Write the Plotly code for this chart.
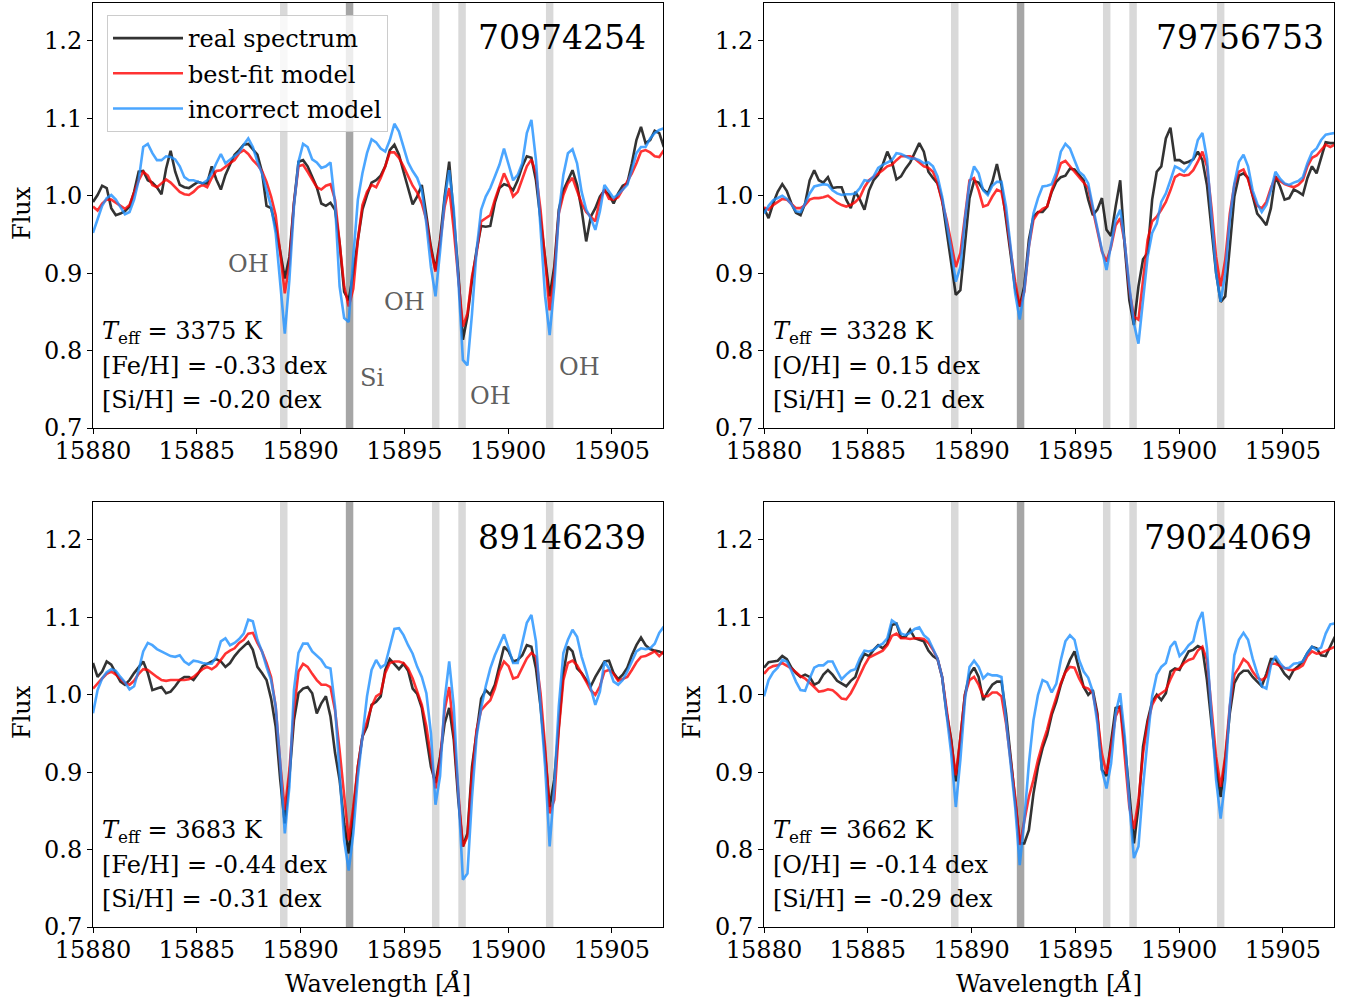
import numpy as np
import plotly.graph_objects as go

# Wavelength sampling grid (Angstrom), common to every spectrum
WAVE = np.round(15880.0 + 0.22 * np.arange(126), 2)

# ---- star 70974254 ----
TL_REAL = [0.992, 1.001, 1.013, 1.010, 0.984, 0.975, 0.977, 0.980, 0.986, 1.005,
           1.031, 1.032, 1.020, 1.017, 1.011, 1.002, 1.035, 1.058, 1.031, 1.014,
           1.011, 1.010, 1.014, 1.018, 1.016, 1.016, 1.038, 1.021, 1.008, 1.027,
           1.040, 1.053, 1.059, 1.066, 1.067, 1.060, 1.053, 1.031, 0.987, 0.984,
           0.960, 0.928, 0.893, 0.921, 0.990, 1.044, 1.046, 1.038, 1.025, 1.011,
           0.990, 0.987, 0.991, 0.982, 0.939, 0.876, 0.865, 0.900, 0.943, 0.982,
           1.001, 1.017, 1.020, 1.026, 1.038, 1.059, 1.066, 1.053, 1.031, 1.010,
           0.989, 0.999, 1.014, 0.975, 0.934, 0.904, 0.943, 0.999, 1.044, 0.973,
           0.900, 0.814, 0.844, 0.891, 0.930, 0.961, 0.960, 0.961, 0.991, 1.010,
           1.015, 1.013, 1.007, 1.020, 1.038, 1.051, 1.049, 1.020, 0.969, 0.917,
           0.870, 0.908, 0.982, 1.007, 1.020, 1.033, 1.014, 0.982, 0.941, 0.973,
           0.984, 0.999, 1.007, 1.001, 0.990, 1.003, 1.013, 1.016, 1.042, 1.072,
           1.089, 1.068, 1.072, 1.084, 1.081, 1.063]
TL_BEST = [0.986, 0.981, 0.990, 0.995, 0.995, 0.991, 0.987, 0.983, 0.988, 1.005,
           1.020, 1.031, 1.026, 1.014, 1.011, 1.016, 1.021, 1.017, 1.011, 1.005,
           1.002, 1.001, 1.005, 1.011, 1.014, 1.011, 1.023, 1.032, 1.033, 1.038,
           1.042, 1.046, 1.055, 1.059, 1.054, 1.046, 1.040, 1.032, 1.018, 0.999,
           0.975, 0.926, 0.874, 0.912, 0.990, 1.038, 1.040, 1.031, 1.020, 1.011,
           1.008, 1.013, 1.015, 0.995, 0.939, 0.883, 0.857, 0.880, 0.943, 0.988,
           1.005, 1.014, 1.011, 1.023, 1.038, 1.056, 1.056, 1.049, 1.038, 1.025,
           1.013, 1.004, 0.990, 0.969, 0.930, 0.902, 0.939, 0.986, 1.010, 0.956,
           0.896, 0.831, 0.848, 0.896, 0.926, 0.967, 0.971, 0.975, 0.995, 1.011,
           1.029, 1.016, 0.999, 1.005, 1.023, 1.038, 1.047, 1.029, 0.982, 0.921,
           0.852, 0.900, 0.977, 1.001, 1.016, 1.023, 1.007, 0.990, 0.979, 0.973,
           0.967, 0.995, 1.008, 0.996, 0.995, 0.998, 1.008, 1.018, 1.029, 1.042,
           1.057, 1.059, 1.056, 1.051, 1.050, 1.059]
TL_BAD = [0.952, 0.971, 0.987, 0.997, 1.001, 0.995, 0.985, 0.976, 0.979, 0.995,
          1.020, 1.063, 1.067, 1.055, 1.046, 1.046, 1.051, 1.050, 1.047, 1.038,
          1.024, 1.020, 1.020, 1.018, 1.016, 1.020, 1.029, 1.042, 1.054, 1.042,
          1.047, 1.051, 1.056, 1.066, 1.074, 1.063, 1.044, 1.029, 1.007, 0.986,
          0.952, 0.887, 0.822, 0.891, 0.986, 1.044, 1.067, 1.063, 1.047, 1.043,
          1.036, 1.038, 1.043, 0.990, 0.883, 0.842, 0.837, 0.921, 0.995, 1.029,
          1.055, 1.073, 1.069, 1.061, 1.057, 1.072, 1.093, 1.083, 1.063, 1.043,
          1.032, 1.023, 1.007, 0.964, 0.908, 0.870, 0.928, 0.995, 1.033, 0.982,
          0.891, 0.788, 0.781, 0.848, 0.930, 0.982, 0.999, 1.010, 1.025, 1.040,
          1.061, 1.042, 1.020, 1.027, 1.042, 1.081, 1.098, 1.046, 0.960, 0.870,
          0.820, 0.883, 0.977, 1.027, 1.055, 1.060, 1.042, 1.005, 0.982, 0.971,
          0.956, 0.980, 1.014, 1.005, 0.997, 1.002, 1.008, 1.014, 1.033, 1.055,
          1.063, 1.063, 1.074, 1.081, 1.085, 1.087]

# ---- star 79756753 ----
TR_REAL = [0.984, 0.971, 0.990, 1.005, 1.015, 1.006, 0.990, 0.978, 0.975, 0.990,
           1.020, 1.033, 1.020, 1.017, 1.024, 1.010, 1.011, 1.011, 0.995, 0.984,
           1.005, 0.995, 0.982, 1.007, 1.020, 1.027, 1.040, 1.057, 1.044, 1.021,
           1.025, 1.035, 1.043, 1.055, 1.068, 1.057, 1.031, 1.023, 1.016, 0.995,
           0.956, 0.917, 0.872, 0.878, 0.941, 0.997, 1.019, 1.017, 1.008, 1.003,
           1.018, 1.041, 1.014, 0.971, 0.930, 0.880, 0.857, 0.883, 0.943, 0.973,
           0.979, 0.979, 0.986, 1.005, 1.018, 1.024, 1.026, 1.035, 1.034, 1.027,
           1.020, 0.995, 0.975, 0.982, 0.997, 0.956, 0.948, 0.986, 1.020, 0.934,
           0.865, 0.833, 0.883, 0.918, 0.926, 0.995, 1.031, 1.038, 1.074, 1.088,
           1.046, 1.046, 1.042, 1.044, 1.047, 1.057, 1.046, 1.014, 0.952, 0.900,
           0.863, 0.870, 0.934, 0.999, 1.026, 1.029, 1.023, 1.001, 0.977, 0.970,
           0.962, 0.984, 1.025, 1.012, 0.995, 0.997, 1.008, 1.005, 1.001, 1.023,
           1.038, 1.029, 1.050, 1.069, 1.068, 1.068]
TR_BEST = [0.985, 0.982, 0.988, 0.992, 0.996, 0.995, 0.990, 0.984, 0.984, 0.988,
           0.995, 0.997, 0.997, 0.998, 1.000, 0.995, 0.991, 0.988, 0.986, 0.988,
           0.992, 0.998, 1.011, 1.020, 1.024, 1.028, 1.033, 1.038, 1.040, 1.046,
           1.051, 1.051, 1.051, 1.048, 1.043, 1.038, 1.036, 1.031, 1.016, 0.992,
           0.969, 0.939, 0.908, 0.926, 0.977, 1.020, 1.023, 1.007, 0.986, 0.988,
           0.999, 1.008, 1.005, 0.975, 0.930, 0.889, 0.857, 0.876, 0.934, 0.969,
           0.978, 0.983, 0.986, 1.007, 1.024, 1.042, 1.045, 1.038, 1.030, 1.023,
           1.017, 1.010, 0.982, 0.956, 0.928, 0.915, 0.934, 0.962, 0.971, 0.939,
           0.878, 0.844, 0.840, 0.891, 0.943, 0.967, 0.973, 0.982, 0.992, 1.007,
           1.024, 1.028, 1.026, 1.027, 1.033, 1.044, 1.057, 1.038, 0.984, 0.921,
           0.883, 0.917, 0.977, 1.014, 1.031, 1.034, 1.021, 1.001, 0.987, 0.984,
           0.992, 1.010, 1.024, 1.019, 1.015, 1.013, 1.011, 1.014, 1.020, 1.038,
           1.049, 1.052, 1.059, 1.066, 1.063, 1.066]
TR_BAD = [0.977, 0.987, 0.994, 0.997, 1.000, 0.996, 0.989, 0.980, 0.979, 0.990,
          1.003, 1.012, 1.014, 1.015, 1.014, 1.007, 1.003, 1.001, 1.002, 1.002,
          1.003, 1.010, 1.020, 1.019, 1.025, 1.036, 1.040, 1.043, 1.046, 1.055,
          1.054, 1.051, 1.048, 1.048, 1.046, 1.042, 1.043, 1.038, 1.025, 0.999,
          0.964, 0.930, 0.889, 0.908, 0.969, 1.016, 1.038, 1.029, 1.007, 1.001,
          1.013, 1.018, 1.018, 0.986, 0.934, 0.874, 0.840, 0.878, 0.934, 0.977,
          0.997, 1.012, 1.013, 1.015, 1.030, 1.057, 1.067, 1.061, 1.046, 1.031,
          1.026, 1.016, 0.986, 0.956, 0.930, 0.904, 0.939, 0.969, 0.982, 0.939,
          0.883, 0.835, 0.809, 0.861, 0.921, 0.952, 0.964, 0.992, 1.003, 1.020,
          1.038, 1.035, 1.031, 1.038, 1.048, 1.072, 1.081, 1.048, 0.971, 0.900,
          0.863, 0.900, 0.969, 1.016, 1.044, 1.053, 1.038, 1.007, 0.990, 0.979,
          0.988, 1.007, 1.031, 1.022, 1.016, 1.014, 1.017, 1.019, 1.024, 1.042,
          1.056, 1.061, 1.072, 1.079, 1.080, 1.081]

# ---- star 89146239 ----
BL_REAL = [1.041, 1.023, 1.030, 1.043, 1.039, 1.028, 1.017, 1.013, 1.019, 1.028,
           1.036, 1.043, 1.028, 1.006, 1.008, 1.010, 1.002, 1.004, 1.011, 1.019,
           1.023, 1.023, 1.019, 1.027, 1.037, 1.040, 1.043, 1.046, 1.043, 1.036,
           1.041, 1.050, 1.057, 1.063, 1.068, 1.058, 1.036, 1.028, 1.019, 0.995,
           0.959, 0.890, 0.834, 0.894, 0.967, 1.002, 1.008, 1.010, 1.002, 0.976,
           0.989, 0.998, 0.972, 0.925, 0.890, 0.834, 0.795, 0.847, 0.907, 0.946,
           0.959, 0.987, 0.991, 0.998, 1.032, 1.046, 1.040, 1.033, 1.040, 1.031,
           1.008, 1.001, 0.983, 0.946, 0.907, 0.886, 0.920, 0.963, 0.983, 0.942,
           0.864, 0.804, 0.821, 0.907, 0.955, 0.995, 1.006, 1.000, 1.013, 1.039,
           1.062, 1.056, 1.043, 1.045, 1.051, 1.064, 1.062, 1.034, 0.985, 0.924,
           0.855, 0.890, 0.959, 1.028, 1.062, 1.056, 1.034, 1.028, 1.019, 1.011,
           1.023, 1.034, 1.043, 1.044, 1.028, 1.020, 1.026, 1.035, 1.051, 1.064,
           1.074, 1.064, 1.059, 1.057, 1.056, 1.053]
BL_BEST = [1.008, 1.015, 1.021, 1.027, 1.030, 1.026, 1.020, 1.015, 1.013, 1.018,
           1.027, 1.033, 1.032, 1.027, 1.023, 1.019, 1.018, 1.019, 1.019, 1.019,
           1.019, 1.020, 1.023, 1.028, 1.033, 1.036, 1.033, 1.037, 1.045, 1.053,
           1.057, 1.060, 1.067, 1.071, 1.079, 1.080, 1.067, 1.056, 1.041, 1.023,
           0.985, 0.911, 0.851, 0.903, 0.980, 1.030, 1.040, 1.036, 1.027, 1.019,
           1.013, 1.013, 1.010, 0.980, 0.928, 0.873, 0.812, 0.855, 0.907, 0.946,
           0.967, 0.985, 0.998, 1.002, 1.028, 1.041, 1.043, 1.043, 1.041, 1.034,
           1.021, 1.004, 0.987, 0.959, 0.916, 0.879, 0.916, 0.980, 1.010, 0.950,
           0.873, 0.804, 0.817, 0.898, 0.955, 0.980, 0.987, 0.993, 1.008, 1.030,
           1.043, 1.037, 1.021, 1.023, 1.035, 1.047, 1.054, 1.049, 1.002, 0.933,
           0.847, 0.864, 0.955, 1.019, 1.041, 1.044, 1.038, 1.028, 1.017, 1.006,
           1.000, 1.011, 1.030, 1.032, 1.027, 1.018, 1.020, 1.023, 1.032, 1.042,
           1.049, 1.050, 1.053, 1.056, 1.050, 1.056]
BL_BAD = [0.976, 1.006, 1.021, 1.029, 1.033, 1.031, 1.023, 1.016, 1.007, 1.011,
          1.032, 1.056, 1.067, 1.064, 1.059, 1.056, 1.053, 1.050, 1.049, 1.051,
          1.043, 1.039, 1.044, 1.043, 1.041, 1.040, 1.040, 1.049, 1.069, 1.073,
          1.064, 1.067, 1.072, 1.079, 1.097, 1.095, 1.071, 1.056, 1.036, 1.019,
          0.985, 0.911, 0.821, 0.881, 1.006, 1.054, 1.066, 1.066, 1.056, 1.051,
          1.045, 1.036, 1.034, 0.985, 0.897, 0.812, 0.773, 0.821, 0.894, 0.950,
          0.998, 1.032, 1.045, 1.035, 1.039, 1.062, 1.085, 1.086, 1.077, 1.064,
          1.053, 1.036, 1.023, 1.002, 0.950, 0.858, 0.895, 0.993, 1.043, 0.985,
          0.864, 0.761, 0.769, 0.868, 0.946, 0.983, 1.011, 1.034, 1.051, 1.064,
          1.078, 1.060, 1.041, 1.041, 1.066, 1.093, 1.103, 1.069, 0.985, 0.907,
          0.804, 0.881, 0.985, 1.054, 1.071, 1.084, 1.075, 1.049, 1.030, 1.008,
          0.987, 1.004, 1.043, 1.034, 1.017, 1.013, 1.019, 1.030, 1.043, 1.056,
          1.060, 1.059, 1.060, 1.066, 1.080, 1.088]

# ---- star 79024069 ----
BR_REAL = [1.035, 1.042, 1.043, 1.044, 1.050, 1.046, 1.035, 1.028, 1.023, 1.026,
           1.023, 1.013, 1.016, 1.026, 1.032, 1.026, 1.018, 1.014, 1.011, 1.018,
           1.023, 1.041, 1.053, 1.050, 1.058, 1.064, 1.060, 1.066, 1.090, 1.092,
           1.074, 1.075, 1.084, 1.073, 1.071, 1.069, 1.057, 1.050, 1.046, 1.023,
           0.976, 0.942, 0.888, 0.942, 1.000, 1.026, 1.035, 1.023, 0.993, 1.004,
           1.013, 1.017, 1.017, 0.976, 0.924, 0.864, 0.808, 0.808, 0.825, 0.872,
           0.907, 0.931, 0.948, 0.974, 0.991, 1.013, 1.030, 1.045, 1.056, 1.034,
           1.010, 1.000, 1.006, 0.976, 0.903, 0.895, 0.942, 0.983, 0.985, 0.937,
           0.873, 0.808, 0.855, 0.933, 0.967, 0.991, 1.000, 0.993, 1.002, 1.030,
           1.034, 1.032, 1.045, 1.056, 1.058, 1.063, 1.060, 1.019, 0.963, 0.907,
           0.868, 0.916, 0.976, 1.015, 1.026, 1.031, 1.031, 1.023, 1.017, 1.011,
           1.027, 1.046, 1.046, 1.037, 1.027, 1.021, 1.032, 1.037, 1.043, 1.054,
           1.062, 1.060, 1.051, 1.050, 1.062, 1.075]
BR_BEST = [1.027, 1.034, 1.037, 1.038, 1.041, 1.038, 1.034, 1.029, 1.024, 1.021,
           1.016, 1.010, 1.004, 1.005, 1.007, 1.006, 1.001, 0.995, 0.994, 1.002,
           1.013, 1.026, 1.038, 1.048, 1.051, 1.055, 1.057, 1.064, 1.076, 1.079,
           1.073, 1.073, 1.072, 1.073, 1.073, 1.072, 1.067, 1.058, 1.047, 1.023,
           0.980, 0.942, 0.896, 0.944, 1.000, 1.019, 1.023, 1.013, 0.998, 0.998,
           1.003, 1.003, 0.998, 0.963, 0.916, 0.868, 0.806, 0.836, 0.868, 0.890,
           0.916, 0.937, 0.955, 0.978, 0.998, 1.015, 1.029, 1.036, 1.035, 1.021,
           1.010, 1.008, 1.002, 0.972, 0.924, 0.898, 0.933, 0.972, 0.985, 0.924,
           0.855, 0.827, 0.864, 0.924, 0.963, 0.987, 0.998, 1.002, 1.006, 1.020,
           1.032, 1.034, 1.041, 1.045, 1.047, 1.057, 1.062, 1.045, 0.980, 0.920,
           0.881, 0.920, 0.985, 1.026, 1.035, 1.046, 1.041, 1.030, 1.022, 1.019,
           1.023, 1.040, 1.040, 1.037, 1.034, 1.032, 1.032, 1.034, 1.038, 1.050,
           1.056, 1.053, 1.054, 1.057, 1.059, 1.062]
BR_BAD = [0.998, 1.019, 1.029, 1.035, 1.045, 1.043, 1.031, 1.017, 1.006, 1.005,
          1.021, 1.035, 1.038, 1.038, 1.043, 1.043, 1.031, 1.020, 1.026, 1.031,
          1.033, 1.047, 1.057, 1.056, 1.058, 1.063, 1.066, 1.073, 1.096, 1.092,
          1.079, 1.077, 1.080, 1.085, 1.087, 1.077, 1.072, 1.060, 1.047, 1.023,
          0.972, 0.924, 0.855, 0.916, 0.993, 1.036, 1.044, 1.036, 1.021, 1.027,
          1.025, 1.025, 1.023, 0.967, 0.907, 0.855, 0.780, 0.838, 0.911, 0.967,
          1.000, 1.019, 1.016, 1.003, 1.014, 1.045, 1.069, 1.077, 1.071, 1.045,
          1.030, 1.022, 1.004, 0.963, 0.903, 0.879, 0.911, 0.976, 1.002, 0.946,
          0.860, 0.789, 0.804, 0.881, 0.942, 0.998, 1.026, 1.036, 1.041, 1.062,
          1.069, 1.050, 1.056, 1.064, 1.069, 1.094, 1.107, 1.060, 0.972, 0.890,
          0.840, 0.890, 0.985, 1.051, 1.071, 1.080, 1.071, 1.047, 1.028, 1.011,
          1.008, 1.038, 1.050, 1.041, 1.034, 1.035, 1.040, 1.041, 1.043, 1.054,
          1.062, 1.058, 1.061, 1.079, 1.091, 1.092]

STAR_IDS = ["70974254", "79756753", "89146239", "79024069"]
PARAMS = [
    ["<i>T</i><sub>eff</sub> = 3375 K", "[Fe/H] = -0.33 dex", "[Si/H] = -0.20 dex"],
    ["<i>T</i><sub>eff</sub> = 3328 K", "[O/H] = 0.15 dex", "[Si/H] = 0.21 dex"],
    ["<i>T</i><sub>eff</sub> = 3683 K", "[Fe/H] = -0.44 dex", "[Si/H] = -0.31 dex"],
    ["<i>T</i><sub>eff</sub> = 3662 K", "[O/H] = -0.14 dex", "[Si/H] = -0.29 dex"],
]
OH_LINES = [15889.19, 15896.51, 15897.78, 15902.00]
SI_LINE = 15892.36
SERIES_NAMES = ["real spectrum", "best-fit model", "incorrect model"]
X_TICKS = [15880, 15885, 15890, 15895, 15900, 15905]
Y_TICKS = [0.7, 0.8, 0.9, 1.0, 1.1, 1.2]

PANELS = [
    (TL_REAL, TL_BEST, TL_BAD),
    (TR_REAL, TR_BEST, TR_BAD),
    (BL_REAL, BL_BEST, BL_BAD),
    (BR_REAL, BR_BEST, BR_BAD),
]

# ---------------------------------------------------------------- styling
W, H = 1347, 1003
FONT = "DejaVu Serif"
COLORS = ["rgba(0,0,0,0.8)", "rgba(255,0,0,0.8)", "rgba(30,144,255,0.8)"]
LIGHT_BAND = "rgb(217,217,217)"
DARK_BAND = "rgb(166,166,166)"
BAND_HALF = 0.18


def px(x):
    return x / W


def py(y):
    return 1 - y / H


# pixel boxes of the four panels: left, right, top, bottom
BOXES = [(93, 663, 3, 428), (764, 1334, 3, 428),
         (93, 663, 502, 927), (764, 1334, 502, 927)]

fig = go.Figure()

for k, series in enumerate(PANELS):
    sfx = "" if k == 0 else str(k + 1)
    for j, vals in enumerate(series):
        fig.add_trace(go.Scatter(
            x=WAVE, y=vals, mode="lines",
            line=dict(color=COLORS[j], width=2.6),
            name=SERIES_NAMES[j], legendgroup=SERIES_NAMES[j],
            showlegend=(k == 0),
            xaxis="x" + sfx, yaxis="y" + sfx,
        ))

layout = dict(
    width=W, height=H,
    margin=dict(l=0, r=0, t=0, b=0, autoexpand=False),
    paper_bgcolor="white", plot_bgcolor="white",
    font=dict(family=FONT, size=24, color="black"),
    showlegend=True,
    legend=dict(
        x=px(107), y=py(15), xanchor="left", yanchor="top",
        bgcolor="rgba(255,255,255,0.8)", bordercolor="#cccccc", borderwidth=1,
        font=dict(family=FONT, size=24), tracegroupgap=1, itemwidth=70,
    ),
)

shapes = []
annotations = []
for k, (l, r, t, b) in enumerate(BOXES):
    sfx = "" if k == 0 else str(k + 1)
    axis_common = dict(
        showline=True, linecolor="black", linewidth=1, mirror=True,
        ticks="outside", ticklen=5, tickwidth=1, tickcolor="black",
        showgrid=False, zeroline=False, automargin=False,
        tickfont=dict(family=FONT, size=24, color="black"),
    )
    layout["xaxis" + sfx] = dict(
        domain=[px(l), px(r)], anchor="y" + sfx,
        range=[15880, 15907.46], tickmode="array",
        tickvals=X_TICKS, ticktext=[str(v) for v in X_TICKS],
        ticklabelstandoff=-4,
        **axis_common,
    )
    layout["yaxis" + sfx] = dict(
        domain=[py(b), py(t)], anchor="x" + sfx,
        range=[0.7, 1.249], tickmode="array",
        tickvals=Y_TICKS, ticktext=[f"{v:.1f}" for v in Y_TICKS],
        **axis_common,
    )
    # absorption-line markers
    for c in OH_LINES + [SI_LINE]:
        shapes.append(dict(
            type="rect", xref="x" + sfx, yref="y" + sfx + " domain",
            x0=c - BAND_HALF, x1=c + BAND_HALF, y0=0, y1=1,
            fillcolor=DARK_BAND if c == SI_LINE else LIGHT_BAND,
            line=dict(width=0), layer="below",
        ))
    # star identifier
    id_right = [648, 1326, 648, 1314][k]
    annotations.append(dict(
        text=STAR_IDS[k], xref="paper", yref="paper",
        x=px(id_right), y=py(t + 35), xanchor="right", yanchor="middle",
        showarrow=False, font=dict(family=FONT, size=33, color="black"),
    ))
    # stellar parameters
    for n, line_txt in enumerate(PARAMS[k]):
        annotations.append(dict(
            text=line_txt, xref="paper", yref="paper",
            x=px(l + 7), y=py(b - 96 + 34 * n), xanchor="left", yanchor="middle",
            showarrow=False, font=dict(family=FONT, size=24, color="black"),
        ))

# y-axis titles
for (xc, yc) in [(22, 213), (22, 712), (692, 712)]:
    annotations.append(dict(
        text="Flux", xref="paper", yref="paper", x=px(xc), y=py(yc),
        xanchor="center", yanchor="middle", textangle=-90, showarrow=False,
        font=dict(family=FONT, size=24, color="black"),
    ))
# x-axis titles
for xc in (378, 1049):
    annotations.append(dict(
        text="Wavelength [<i>Å</i>]", xref="paper", yref="paper",
        x=px(xc), y=py(983), xanchor="center", yanchor="middle",
        showarrow=False, font=dict(family=FONT, size=24, color="black"),
    ))

# species labels in the first panel
SPECIES = [("OH", 15887.47, 0.912), ("OH", 15895.03, 0.863), ("Si", 15893.44, 0.765),
           ("OH", 15899.17, 0.741), ("OH", 15903.46, 0.779)]
for txt, wx, fy in SPECIES:
    annotations.append(dict(
        text=txt, xref="x", yref="y", x=wx, y=fy,
        xanchor="center", yanchor="middle", showarrow=False,
        font=dict(family=FONT, size=24, color="rgb(96,96,96)"),
    ))

layout["shapes"] = shapes
layout["annotations"] = annotations
fig.update_layout(**layout)

fig.write_html("out.html")
